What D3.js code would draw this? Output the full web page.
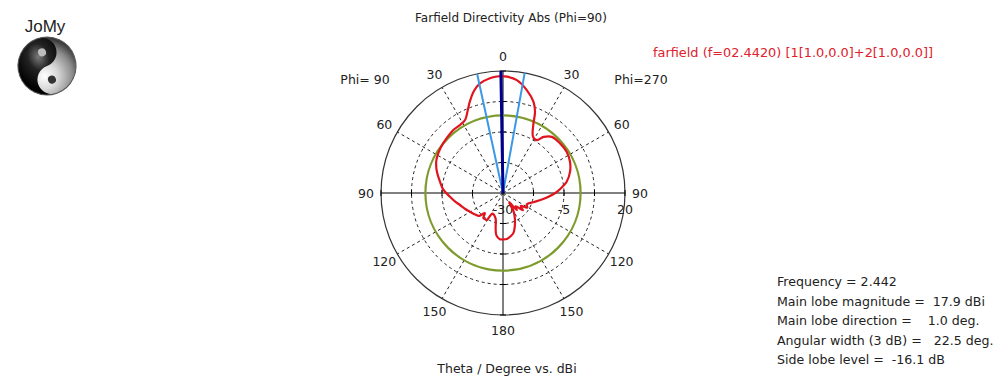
<!DOCTYPE html>
<html><head><meta charset="utf-8">
<script src="https://cdn.jsdelivr.net/npm/d3@7"></script>
<style>
body{margin:0;background:#fff}
svg{display:block}
text{font-family:"DejaVu Sans",sans-serif;fill:#222;white-space:pre}
</style>
</head><body>
<svg id="chart" width="1000" height="383"></svg>
<script>
// ---------------- data ----------------
const titleText = "Farfield Directivity Abs (Phi=90)";
const axisTitle = "Theta / Degree vs. dBi";
const legendText = "farfield (f=02.4420) [1[1.0,0.0]+2[1.0,0.0]]";
const phiLabels = ["Phi= 90", "Phi=270"];
const angleTicks = [0, 30, 60, 90, 120, 150, 180];
const radialRings = [-30, -17.5, -5, 7.5, 20];
const radialLabels = [-30, -5, 20];

// Phi = 90 half (drawn on the left)
const theta90 = [0, 1, 3, 6.5, 12, 16, 20, 22.5, 27.5, 32, 38, 46, 54, 62, 66, 72, 80, 87, 94, 100, 106, 113, 120, 126, 130, 134, 138, 142, 146, 149, 152, 155, 160, 165, 168, 171, 176, 180];
const dir90 = [17.8, 17.9, 17.8, 17.3, 15.8, 13.4, 9.8, 7.4, 3.7, 3.0, 2.9, 2.2, 1.6, 0.7, 0.0, -1.5, -3.8, -5.6, -8.2, -10.0, -11.8, -13.2, -14.5, -15.3, -15.9, -16.5, -18.9, -16.9, -17.0, -17.1, -20.4, -20.5, -20.0, -18.6, -15.5, -12.5, -11.0, -11.0];

// Phi = 270 half (drawn on the right)
const theta270 = [0, 2, 7, 13, 18.5, 21.5, 24, 28, 32.5, 36, 41, 49, 57, 65, 72.5, 80, 84, 87.5, 91.5, 98.5, 107, 115.5, 121, 126, 131, 136, 141, 146, 150, 155, 160, 165, 170, 175, 180];
const dir270 = [17.8, 17.7, 16.6, 13.3, 9.4, 5.8, 0.5, -3.8, -4.3, -1.6, 0.5, 1.0, 1.1, 0.3, -1.2, -3.5, -5.5, -7.3, -9.4, -13.3, -17.0, -19.2, -18.4, -21.0, -19.2, -22.5, -21.0, -25.5, -21.3, -18.5, -15.8, -13.2, -12.0, -11.1, -11.0];

const frequency = 2.442;
const mainLobeMagnitude = 17.9;   // dBi
const mainLobeDirection = 1.0;    // deg, phi=90 side
const angularWidth = 22.5;        // deg (3 dB)
const sideLobeLevel = -16.1;      // dB relative to main lobe

const infoLines = [
  "Frequency = " + frequency.toFixed(3),
  "Main lobe magnitude =  " + mainLobeMagnitude.toFixed(1) + " dBi",
  "Main lobe direction =    " + mainLobeDirection.toFixed(1) + " deg.",
  "Angular width (3 dB) =   " + angularWidth.toFixed(1) + " deg.",
  "Side lobe level =  " + sideLobeLevel.toFixed(1) + " dB"
];

// ---------------- layout ----------------
const W = 1000, H = 383;
const cx = 503, cy = 193, R = 122;
const svg = d3.select("#chart");
svg.append("rect").attr("width", W).attr("height", H).attr("fill", "#fff");

const r = d3.scaleLinear().domain([-30, 20]).range([0, R]).clamp(true);
const rad = d => d * Math.PI / 180;
const px = (a, rr) => cx + rr * Math.sin(rad(a));
const py = (a, rr) => cy - rr * Math.cos(rad(a));

const g = svg.append("g");

// dashed rings (inner)
g.selectAll("circle.ring").data(radialRings.slice(1, -1)).join("circle")
  .attr("cx", cx).attr("cy", cy).attr("r", d => r(d))
  .attr("fill", "none").attr("stroke", "#222").attr("stroke-width", 1)
  .attr("stroke-dasharray", "3,3");

// dashed spokes
const spokeAngles = [30, 60, 120, 150, -30, -60, -120, -150];
g.selectAll("line.spoke").data(spokeAngles).join("line")
  .attr("x1", cx).attr("y1", cy)
  .attr("x2", d => px(d, R)).attr("y2", d => py(d, R))
  .attr("stroke", "#222").attr("stroke-width", 1).attr("stroke-dasharray", "3,3");

// outer ring
g.append("circle").attr("cx", cx).attr("cy", cy).attr("r", r(20))
  .attr("fill", "none").attr("stroke", "#333").attr("stroke-width", 1.2);

// solid axes
g.append("line").attr("x1", cx - R).attr("x2", cx + R).attr("y1", cy).attr("y2", cy).attr("stroke", "#000");
g.append("line").attr("x1", cx).attr("x2", cx).attr("y1", cy - R).attr("y2", cy + R).attr("stroke", "#000");

// small ticks on axes at ring radii
const tickR = radialRings.slice(1);
[0, 90, 180, -90].forEach(a => {
  tickR.forEach(v => {
    const rr = r(v);
    const x = px(a, rr), y = py(a, rr);
    const horiz = (a === 90 || a === -90);
    g.append("line")
      .attr("x1", horiz ? x : x - 3).attr("x2", horiz ? x : x + 3)
      .attr("y1", horiz ? y - 3 : y).attr("y2", horiz ? y + 3 : y)
      .attr("stroke", "#000");
  });
});

// angle labels
const angLab = [];
angleTicks.forEach(t => {
  if (t === 0 || t === 180) angLab.push({a: t, t});
  else { angLab.push({a: -t, t}); angLab.push({a: t, t}); }
});
g.selectAll("text.ang").data(angLab).join("text")
  .attr("x", d => px(d.a, R + 15)).attr("y", d => py(d.a, R + 15))
  .attr("text-anchor", "middle").attr("dominant-baseline", "central")
  .attr("font-size", 12.5).text(d => d.t);

// radial labels
g.selectAll("text.rl").data(radialLabels).join("text")
  .attr("x", d => cx + r(d)).attr("y", cy + 16)
  .attr("text-anchor", "middle").attr("dominant-baseline", "central")
  .attr("font-size", 12.5).text(d => d);

// side lobe level circle (green)
g.append("circle").attr("cx", cx).attr("cy", cy)
  .attr("r", r(mainLobeMagnitude + sideLobeLevel))
  .attr("fill", "none").attr("stroke", "#7d9b2c").attr("stroke-width", 2.2);

// directivity curve
const pts = [];
for (let i = theta90.length - 1; i >= 0; i--) pts.push({a: -theta90[i], v: dir90[i]});
for (let i = 1; i < theta270.length - 1; i++) pts.push({a: theta270[i], v: dir270[i]});
const line = d3.lineRadial()
  .angle(d => rad(d.a)).radius(d => r(d.v))
  .curve(d3.curveCatmullRomClosed.alpha(0.5));
g.append("path").attr("transform", `translate(${cx},${cy})`)
  .attr("d", line(pts)).attr("fill", "none")
  .attr("stroke", "#e0141e").attr("stroke-width", 2.2).attr("stroke-linejoin", "round");

// 3 dB beam width lines (light blue)
const beamEdges = [-(mainLobeDirection + angularWidth / 2), angularWidth / 2 - mainLobeDirection];
g.selectAll("line.beam").data(beamEdges).join("line")
  .attr("x1", cx).attr("y1", cy)
  .attr("x2", d => px(d, R)).attr("y2", d => py(d, R))
  .attr("stroke", "#3a98e6").attr("stroke-width", 2);

// main lobe direction (dark blue)
g.append("line").attr("x1", cx).attr("y1", cy)
  .attr("x2", px(-mainLobeDirection, R)).attr("y2", py(-mainLobeDirection, R))
  .attr("stroke", "#000090").attr("stroke-width", 3);

// titles
svg.append("text").attr("x", cx + 8).attr("y", 22).attr("text-anchor", "middle")
  .attr("font-size", 12).text(titleText);
svg.append("text").attr("x", cx + 4).attr("y", 373).attr("text-anchor", "middle")
  .attr("font-size", 12.5).text(axisTitle);
svg.append("text").attr("x", 365).attr("y", 84).attr("text-anchor", "middle")
  .attr("font-size", 12.5).text(phiLabels[0]);
svg.append("text").attr("x", 641).attr("y", 84).attr("text-anchor", "middle")
  .attr("font-size", 12.5).text(phiLabels[1]);

// legend
svg.append("text").attr("x", 653).attr("y", 57).attr("font-size", 12.9)
  .style("fill", "#e0202c").text(legendText);

// info block
svg.selectAll("text.info").data(infoLines).join("text")
  .attr("x", 777).attr("y", (d, i) => 286 + i * 19.6)
  .attr("font-size", 12.6).text(d => d);

// ---------------- logo ----------------
const defs = svg.append("defs");
const lg = defs.append("radialGradient").attr("id", "ballLight").attr("cx", "40%").attr("cy", "65%").attr("r", "65%");
lg.append("stop").attr("offset", "0%").attr("stop-color", "#ffffff");
lg.append("stop").attr("offset", "35%").attr("stop-color", "#d8d8d8");
lg.append("stop").attr("offset", "75%").attr("stop-color", "#8a8a8a");
lg.append("stop").attr("offset", "100%").attr("stop-color", "#3a3a3a");
const dg = defs.append("radialGradient").attr("id", "ballDark").attr("cx", "55%").attr("cy", "30%").attr("r", "60%");
dg.append("stop").attr("offset", "0%").attr("stop-color", "#7a7a7a");
dg.append("stop").attr("offset", "40%").attr("stop-color", "#222");
dg.append("stop").attr("offset", "100%").attr("stop-color", "#000");

svg.append("text").attr("x", 45).attr("y", 32).attr("text-anchor", "middle")
  .style("font-family", "Liberation Sans, Arial, sans-serif")
  .attr("font-size", 17).text("JoMy");
const LR = 29;
const logo = svg.append("g").attr("transform", "translate(47,66) rotate(-20)");
logo.append("circle").attr("r", LR).attr("fill", "url(#ballLight)");
logo.append("path")
  .attr("d", `M0,${-LR} A${LR},${LR} 0 0 0 0,${LR} A${LR/2},${LR/2} 0 0 1 0,0 A${LR/2},${LR/2} 0 0 0 0,${-LR} Z`)
  .attr("fill", "url(#ballDark)");
logo.append("circle").attr("cx", 0).attr("cy", -LR / 2).attr("r", 4).attr("fill", "#bdbdbd");
logo.append("circle").attr("cx", 0).attr("cy", LR / 2).attr("r", 4).attr("fill", "#333");
logo.append("circle").attr("r", LR).attr("fill", "none").attr("stroke", "#555").attr("stroke-width", 1);
</script>
</body></html>
